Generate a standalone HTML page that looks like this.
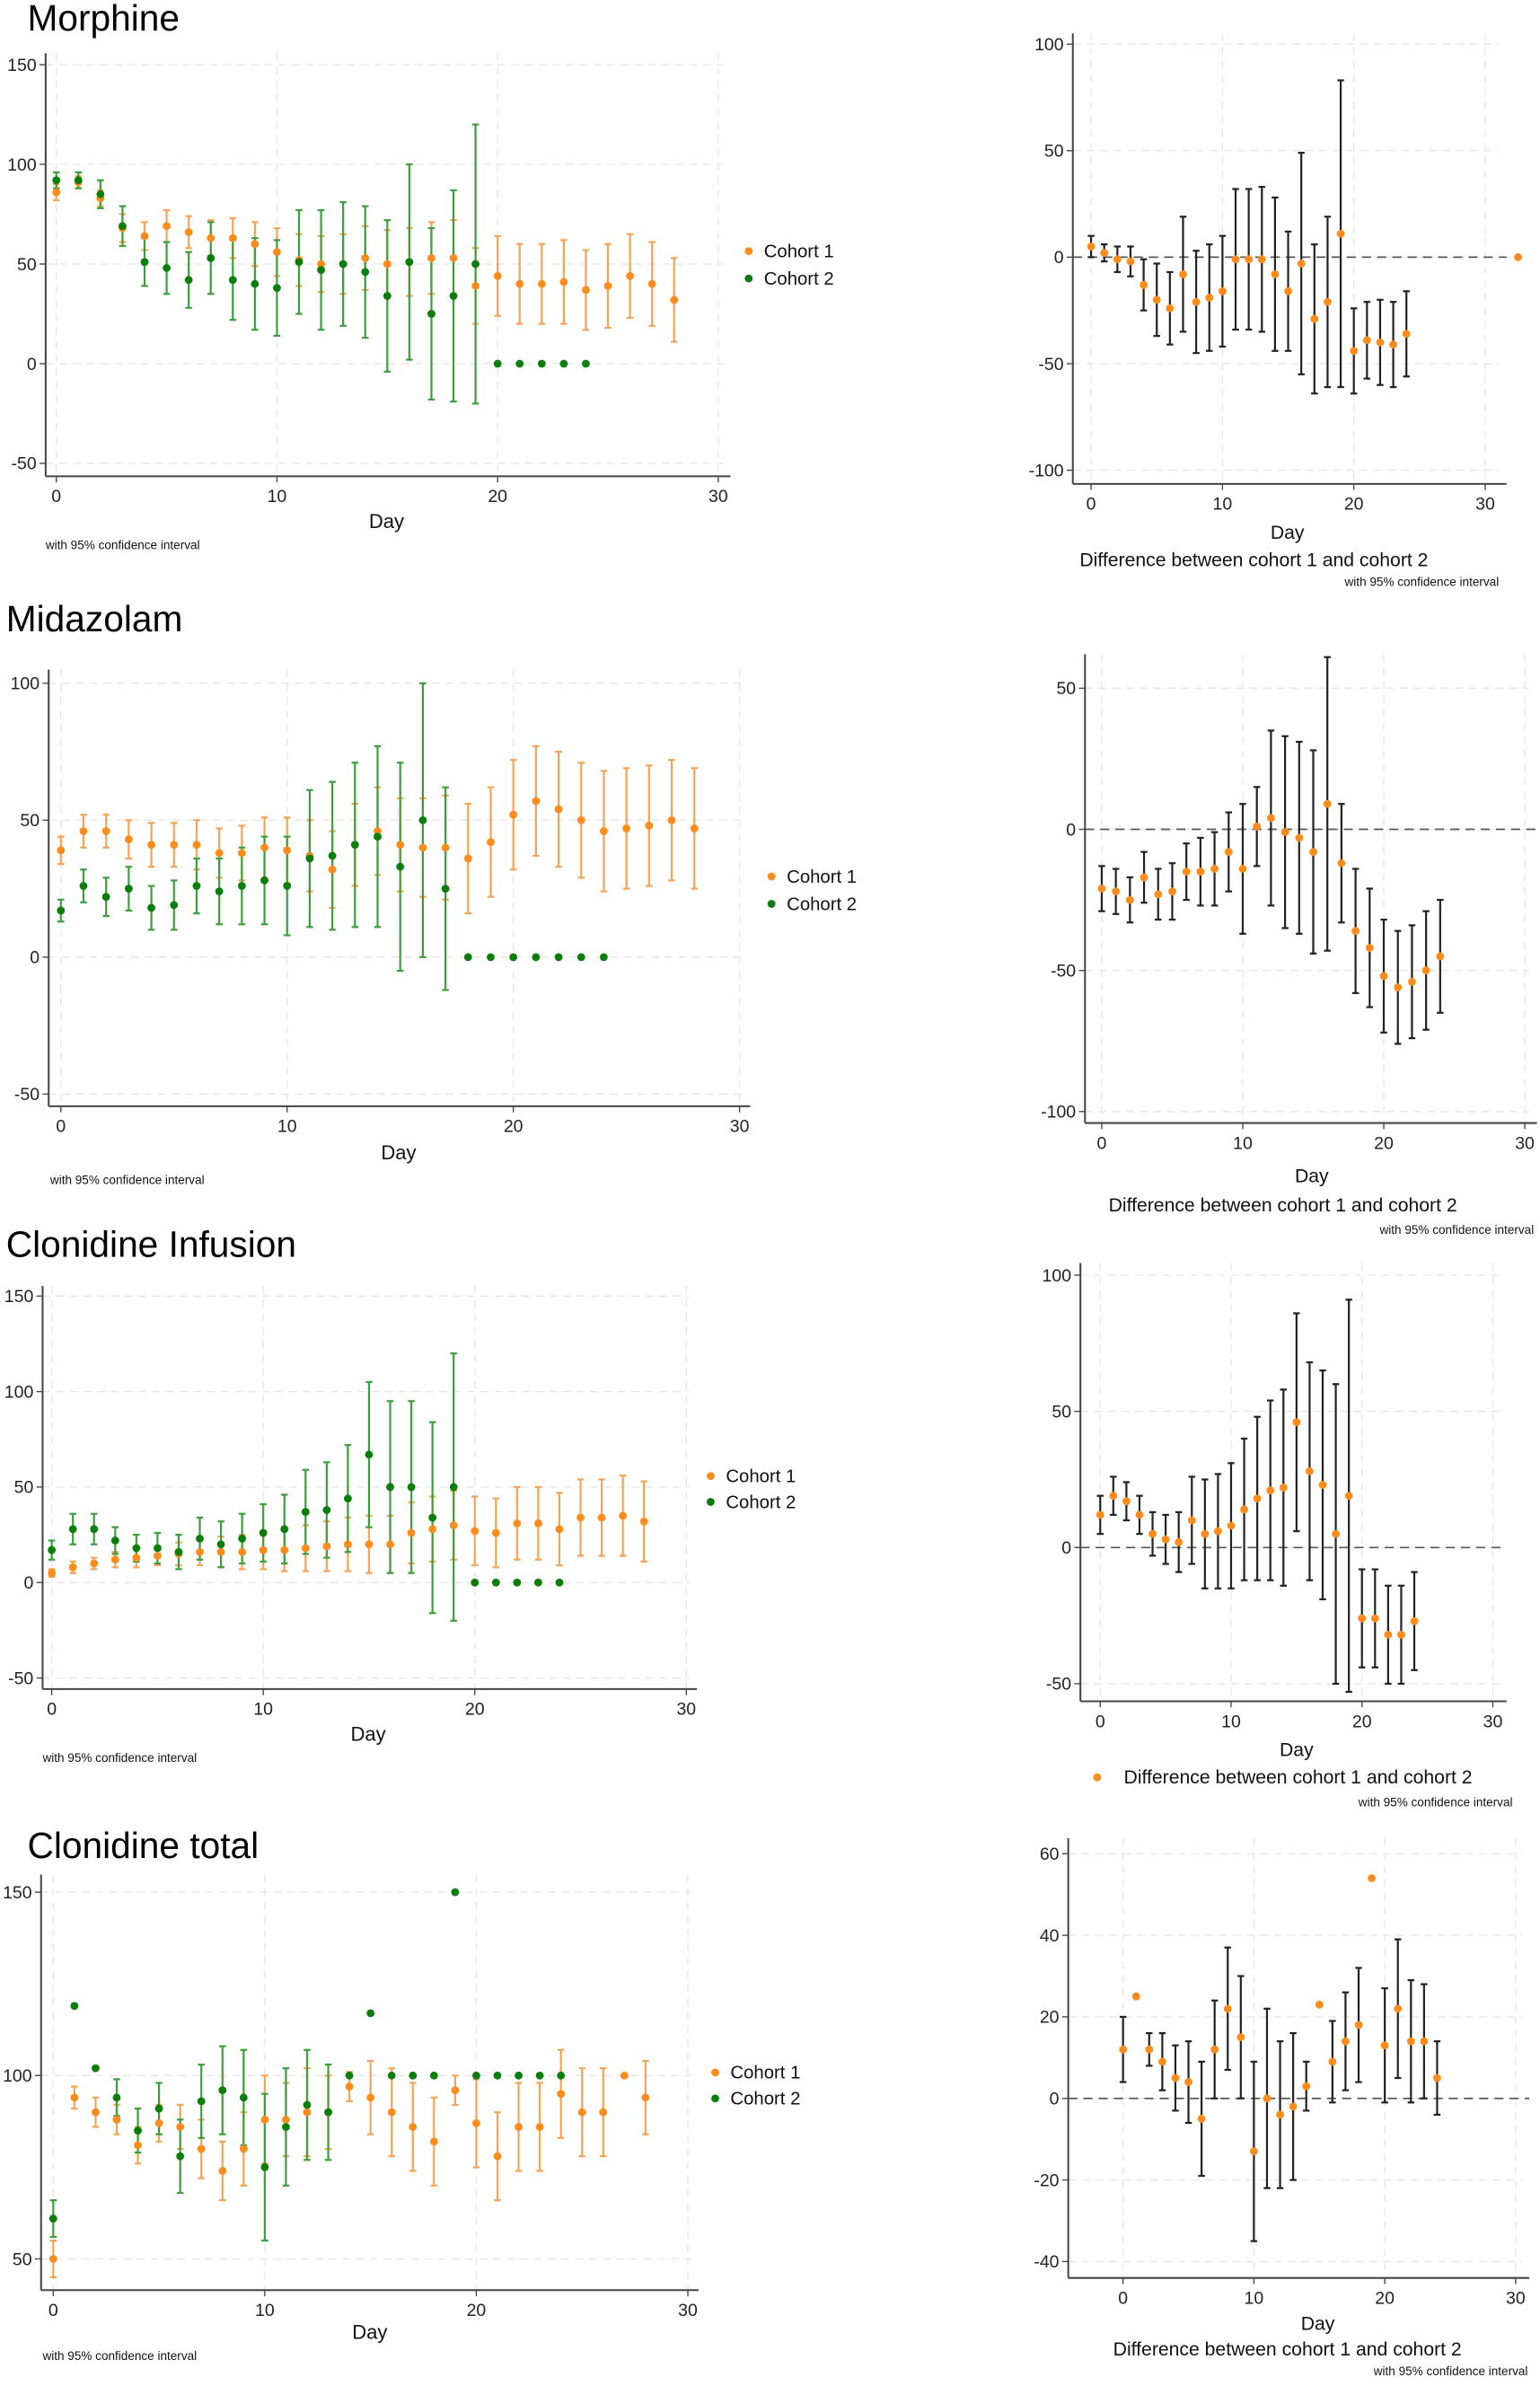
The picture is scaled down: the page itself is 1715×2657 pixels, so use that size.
<!DOCTYPE html>
<html><head><meta charset="utf-8">
<style>
html,body{margin:0;padding:0;background:#fff;}
svg{display:block;font-family:"Liberation Sans",sans-serif;}
</style></head>
<body>
<svg id="chart" width="1715" height="2657" viewBox="0 0 1012 1568" preserveAspectRatio="none" xmlns="http://www.w3.org/2000/svg">
<text x="18" y="20" font-size="24">Morphine</text>
<text x="4" y="415" font-size="24">Midazolam</text>
<text x="4" y="826" font-size="24">Clonidine  Infusion</text>
<text x="18" y="1221" font-size="24">Clonidine total</text>
</svg>
<script>
// ---- data ----
const daysC1 = [0,1,2,3,4,5,6,7,8,9,10,11,12,13,14,15,16,17,18,19,20,21,22,23,24,25,26,27,28];
const daysC2morph = [0,1,2,3,4,5,6,7,8,9,10,11,12,13,14,15,16,17,18,19,20,21,22,23,24];
const daysC2mid = [0,1,2,3,4,5,6,7,8,9,10,11,12,13,14,15,16,17,18,19,20,21,22,23,24];
const daysDiff = [0,1,2,3,4,5,6,7,8,9,10,11,12,13,14,15,16,17,18,19,20,21,22,23,24];
const daysDiffMorph = [0,1,2,3,4,5,6,7,8,9,10,11,12,13,14,15,16,17,18,19,20,21,22,23,24,32.5];

const morphC1 = [86,91,83,68,64,69,66,63,63,60,56,52,50,50,53,50,51,53,53,39,44,40,40,41,37,39,44,40,32];
const morphC1ci = [4,3,4,7,7,8,8,9,10,11,12,13,14,15,16,17,17,18,19,19,20,20,20,21,20,21,21,21,21];
const morphC2 = [92,92,85,69,51,48,42,53,42,40,38,51,47,50,46,34,51,25,34,50,0,0,0,0,0];
const morphC2ci = [4,4,7,10,12,13,14,18,20,23,24,26,30,31,33,38,49,43,53,70,null,null,null,null,null];
const morphDiff = [5,2,-1,-2,-13,-20,-24,-8,-21,-19,-16,-1,-1,-1,-8,-16,-3,-29,-21,11,-44,-39,-40,-41,-36,0];
const morphDiffCi = [5,4,6,7,12,17,17,27,24,25,26,33,33,34,36,28,52,35,40,72,20,18,20,20,20,null];

const midC1 = [39,46,46,43,41,41,41,38,38,40,39,37,32,41,46,41,40,40,36,42,52,57,54,50,46,47,48,50,47];
const midC1ci = [5,6,6,7,8,8,9,9,10,11,12,13,14,15,16,17,18,19,20,20,20,20,21,21,22,22,22,22,22];
const midC2 = [17,26,22,25,18,19,26,24,26,28,26,36,37,41,44,33,50,25,0,0,0,0,0,0,0];
const midC2ci = [4,6,7,8,8,9,10,12,14,16,18,25,27,30,33,38,50,37,null,null,null,null,null,null,null];
const midDiff = [-21,-22,-25,-17,-23,-22,-15,-15,-14,-8,-14,1,4,-1,-3,-8,9,-12,-36,-42,-52,-56,-54,-50,-45];
const midDiffCi = [8,8,8,9,9,10,10,12,13,14,23,14,31,34,34,36,52,21,22,21,20,20,20,21,20];

const cinfC1 = [5,8,10,12,13,14,15,16,16,16,17,17,18,19,20,20,20,26,28,30,27,26,31,31,28,34,34,35,32];
const cinfC1ci = [2,3,3,4,5,5,6,7,8,9,10,11,12,13,14,15,15,16,17,18,18,18,19,19,19,20,20,21,21];
const cinfC2 = [17,28,28,22,18,18,16,23,20,23,26,28,37,38,44,67,50,50,34,50,0,0,0,0,0];
const cinfC2ci = [5,8,8,7,7,8,9,11,12,13,15,18,22,25,28,38,45,45,50,70,null,null,null,null,null];
const cinfDiff = [12,19,17,12,5,3,2,10,5,6,8,14,18,21,22,46,28,23,5,19,-26,-26,-32,-32,-27];
const cinfDiffCi = [7,7,7,7,8,9,11,16,20,21,23,26,30,33,36,40,40,42,55,72,18,18,18,18,18];

const ctotC1 = [50,94,90,88,81,87,86,80,74,80,88,88,90,90,97,94,90,86,82,96,87,78,86,86,95,90,90,100,94];
const ctotC1ci = [5,3,4,4,5,5,6,8,8,10,12,10,12,10,4,10,12,12,12,4,12,12,12,12,12,12,12,null,10];
const ctotC2 = [61,119,102,94,85,91,78,93,96,94,75,86,92,90,100,117,100,100,100,150,100,100,100,100,100];
const ctotC2ci = [5,null,null,5,6,7,10,10,12,13,20,16,15,13,null,null,null,null,null,null,null,null,null,null,null];
const ctotDiff = [12,25,12,9,5,4,-5,12,22,15,-13,0,-4,-2,3,23,9,14,18,54,13,22,14,14,5];
const ctotDiffCi = [8,null,4,7,8,10,14,12,15,15,22,22,18,18,6,null,10,12,14,null,14,17,15,14,9];

const ORANGE = '#ff8c1a', ORANGE_BAR = '#f7a355', GREEN = '#0a7d0a', GREEN_BAR = '#3d9e3d';
const svg = document.getElementById('chart');
const NS = 'http://www.w3.org/2000/svg';
function mk(tag, attrs, parent) {
  const e = document.createElementNS(NS, tag);
  for (const k in attrs) e.setAttribute(k, attrs[k]);
  (parent || svg).appendChild(e);
  return e;
}
function panel(p) {
  const g = mk('g', {});
  
  
  const xS = d => p.x0 + (d - 0) * (p.x30 - p.x0) / 30;
  const yS = v => p.yRef + (v - p.vRef) * p.pxPerUnit * -1;
  // grid
  p.yTicks.forEach(t => {
    const gl = mk('line', {x1: p.axL, x2: p.axR - 5, y1: yS(t), y2: yS(t), stroke: '#e6e6e6', 'stroke-dasharray': '5,4', 'stroke-width': 0.8}, g);
    
    
    const tk = mk('line', {x1: p.axL - 4, x2: p.axL, y1: yS(t), y2: yS(t), stroke: '#444', 'stroke-width': 0.8}, g);
    
    
    const tl = mk('text', {x: p.axL - 6, y: yS(t) + 4, 'font-size': 11.5, 'text-anchor': 'end', fill: '#222'}, g);
    
    
    tl.textContent = t;
  });
  [0, 10, 20, 30].forEach(t => {
    const gl = mk('line', {x1: xS(t), x2: xS(t), y1: p.axT, y2: p.axB, stroke: '#e6e6e6', 'stroke-dasharray': '5,4', 'stroke-width': 0.8}, g);
    
    
    const tk = mk('line', {x1: xS(t), x2: xS(t), y1: p.axB, y2: p.axB + 4, stroke: '#444', 'stroke-width': 0.8}, g);
    
    
    const tl = mk('text', {x: xS(t), y: p.axB + 17, 'font-size': 11.5, 'text-anchor': 'middle', fill: '#222'}, g);
    
    
    tl.textContent = t;
  });
  const ya = mk('line', {x1: p.axL, x2: p.axL, y1: p.axT, y2: p.axB, stroke: '#444', 'stroke-width': 1.2}, g);
  
  
  const xa = mk('line', {x1: p.axL, x2: p.axR, y1: p.axB, y2: p.axB, stroke: '#444', 'stroke-width': 1.2}, g);
  
  
  if (p.zeroLine) {
    const zl = mk('line', {x1: p.axL, x2: p.axR, y1: yS(0), y2: yS(0), stroke: '#555', 'stroke-dasharray': '6,4', 'stroke-width': 1}, g);
    
    
  }
  p.series.forEach(s => {
    s.vals.forEach((v, i) => {
      const x = xS(s.days[i]);
      const ci = s.ci[i];
      if (ci != null) {
        const bar = mk('line', {x1: x, x2: x, y1: yS(v - ci), y2: yS(v + ci), stroke: s.bar, 'stroke-width': 1.3}, g);
        
        
        [v - ci, v + ci].forEach(c => {
          const cap = mk('line', {x1: x - 2.2, x2: x + 2.2, y1: yS(c), y2: yS(c), stroke: s.bar, 'stroke-width': 1.3}, g);
          
          
        });
      }
    });
  });
  p.series.forEach(s => {
    s.vals.forEach((v, i) => {
      const pt = mk('circle', {cx: xS(s.days[i]), cy: yS(v), r: 2.6, fill: s.color}, g);
      
      
    });
  });
  p.texts.forEach(t => {
    const te = mk('text', {x: t[0], y: t[1], 'font-size': t[2], 'text-anchor': t[4] || 'middle', fill: '#111'}, g);
    
    
    te.textContent = t[3];
  });
  (p.legend || []).forEach(l => {
    const c = mk('circle', {cx: l[0], cy: l[1] - 4, r: 2.6, fill: l[2]}, g);
    
    
    const t = mk('text', {x: l[0] + 10, y: l[1], 'font-size': 12, fill: '#111'}, g);
    
    
    t.textContent = l[3];
  });
}
const S = (key, days, vals, ci, color, bar) => ({key, days, vals, ci, color, bar});
const cap = '#222';
// Morphine left
panel({name: 'morphine-cohort-chart', x0: 37, x30: 472, yRef: 239, vRef: 0, pxPerUnit: 1.31, axL: 30, axR: 480, axT: 35, axB: 313,
  yTicks: [150, 100, 50, 0, -50], series: [S('cohort1', daysC1, morphC1, morphC1ci, ORANGE, ORANGE_BAR), S('cohort2', daysC2morph, morphC2, morphC2ci, GREEN, GREEN_BAR)],
  texts: [[254, 347, 13, 'Day', 'middle', 'x-axis-title'], [30, 361, 8, 'with 95% confidence interval', 'start', 'ci-note']],
  legend: [[492, 169, ORANGE, 'Cohort 1'], [492, 187, GREEN, 'Cohort 2']]});
panel({name: 'morphine-difference-chart', x0: 717, x30: 976, yRef: 169, vRef: 0, pxPerUnit: 1.4, axL: 705, axR: 990, axT: 22, axB: 318, zeroLine: true,
  yTicks: [100, 50, 0, -50, -100], series: [S('difference', daysDiffMorph, morphDiff, morphDiffCi, ORANGE, cap)],
  texts: [[846, 354, 12.5, 'Day', 'middle', 'x-axis-title'], [824, 372, 12.5, 'Difference between cohort 1 and cohort 2', 'middle', 'difference-label'], [985, 385, 8, 'with 95% confidence interval', 'end', 'ci-note']]});
// Midazolam
panel({name: 'midazolam-cohort-chart', x0: 40, x30: 486, yRef: 629, vRef: 0, pxPerUnit: 1.8, axL: 32, axR: 493, axT: 440, axB: 727,
  yTicks: [100, 50, 0, -50], series: [S('cohort1', daysC1, midC1, midC1ci, ORANGE, ORANGE_BAR), S('cohort2', daysC2mid, midC2, midC2ci, GREEN, GREEN_BAR)],
  texts: [[262, 762, 13, 'Day', 'middle', 'x-axis-title'], [33, 778, 8, 'with 95% confidence interval', 'start', 'ci-note']],
  legend: [[507, 580, ORANGE, 'Cohort 1'], [507, 598, GREEN, 'Cohort 2']]});
panel({name: 'midazolam-difference-chart', x0: 724, x30: 1002, yRef: 545, vRef: 0, pxPerUnit: 1.855, axL: 713, axR: 1010, axT: 430, axB: 738, zeroLine: true,
  yTicks: [50, 0, -50, -100], series: [S('difference', daysDiff, midDiff, midDiffCi, ORANGE, cap)],
  texts: [[862, 777, 12.5, 'Day', 'middle', 'x-axis-title'], [843, 796, 12.5, 'Difference between cohort 1 and cohort 2', 'middle', 'difference-label'], [1008, 811, 8, 'with 95% confidence interval', 'end', 'ci-note']]});
// Clonidine infusion
panel({name: 'clonidine-infusion-cohort-chart', x0: 34, x30: 451, yRef: 1040, vRef: 0, pxPerUnit: 1.255, axL: 28, axR: 458, axT: 845, axB: 1110,
  yTicks: [150, 100, 50, 0, -50], series: [S('cohort1', daysC1, cinfC1, cinfC1ci, ORANGE, ORANGE_BAR), S('cohort2', daysC2morph, cinfC2, cinfC2ci, GREEN, GREEN_BAR)],
  texts: [[242, 1144, 13, 'Day', 'middle', 'x-axis-title'], [28, 1158, 8, 'with 95% confidence interval', 'start', 'ci-note']],
  legend: [[467, 974, ORANGE, 'Cohort 1'], [467, 991, GREEN, 'Cohort 2']]});
panel({name: 'clonidine-infusion-difference-chart', x0: 723, x30: 981, yRef: 1017, vRef: 0, pxPerUnit: 1.79, axL: 710, axR: 990, axT: 830, axB: 1118, zeroLine: true,
  yTicks: [100, 50, 0, -50], series: [S('difference', daysDiff, cinfDiff, cinfDiffCi, ORANGE, cap)],
  texts: [[852, 1154, 12.5, 'Day', 'middle', 'x-axis-title'], [853, 1172, 12.5, 'Difference between cohort 1 and cohort 2', 'middle', 'difference-label'], [994, 1187, 8, 'with 95% confidence interval', 'end', 'ci-note']],
  legend: [[721, 1172, ORANGE, '']]});
// Clonidine total
panel({name: 'clonidine-total-cohort-chart', x0: 35, x30: 452, yRef: 1364, vRef: 100, pxPerUnit: 2.41, axL: 27, axR: 459, axT: 1232, axB: 1505,
  yTicks: [150, 100, 50], series: [S('cohort1', daysC1, ctotC1, ctotC1ci, ORANGE, ORANGE_BAR), S('cohort2', daysC2morph, ctotC2, ctotC2ci, GREEN, GREEN_BAR)],
  texts: [[243, 1537, 13, 'Day', 'middle', 'x-axis-title'], [28, 1551, 8, 'with 95% confidence interval', 'start', 'ci-note']],
  legend: [[470, 1366, ORANGE, 'Cohort 1'], [470, 1383, GREEN, 'Cohort 2']]});
panel({name: 'clonidine-total-difference-chart', x0: 738, x30: 996, yRef: 1379, vRef: 0, pxPerUnit: 2.68, axL: 702, axR: 1005, axT: 1208, axB: 1497, zeroLine: true,
  yTicks: [60, 40, 20, 0, -20, -40], series: [S('difference', daysDiff, ctotDiff, ctotDiffCi, ORANGE, cap)],
  texts: [[866, 1531, 12.5, 'Day', 'middle', 'x-axis-title'], [846, 1548, 12.5, 'Difference between cohort 1 and cohort 2', 'middle', 'difference-label'], [1004, 1561, 8, 'with 95% confidence interval', 'end', 'ci-note']]});
</script>
</body></html>
